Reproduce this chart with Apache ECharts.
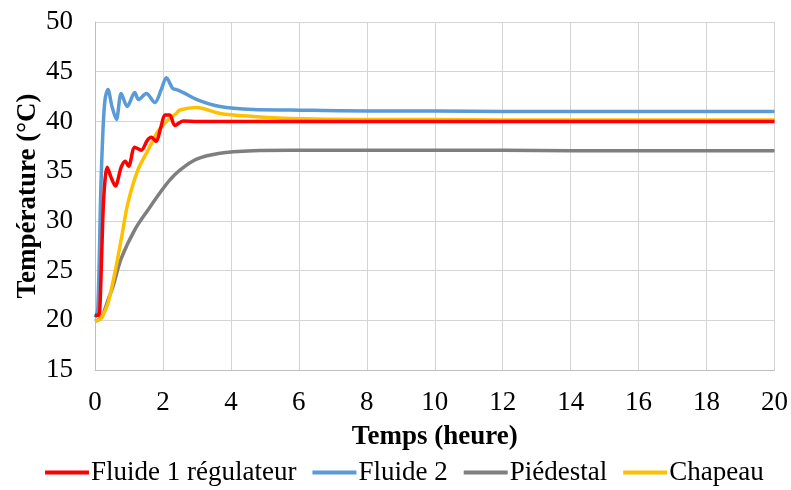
<!DOCTYPE html>
<html>
<head>
<meta charset="utf-8">
<script src="https://cdn.jsdelivr.net/npm/echarts@6/dist/echarts.min.js"></script>
<style>
html,body{margin:0;padding:0;background:#fff;}
#chart{width:791px;height:490px;}
</style>
</head>
<body>
<div id="chart"></div>
<script>
var seriesNames = ['Fluide 1 régulateur', 'Fluide 2', 'Piédestal', 'Chapeau'];
var xTicks = [0, 2, 4, 6, 8, 10, 12, 14, 16, 18, 20];
var yTicks = [15, 20, 25, 30, 35, 40, 45, 50];

var fluide1Time = [0, 0.1, 0.14, 0.2, 0.26, 0.36, 0.47, 0.6, 0.77, 0.89, 0.99, 1.17, 1.36, 1.54, 1.66, 1.8, 1.93, 2.07, 2.2, 2.35, 2.6, 3, 4, 6, 8, 10, 12, 14, 16, 18, 20];
var fluide1 = [20.5, 20.5, 21, 27, 32.5, 35.4, 34.4, 33.5, 35.4, 36.0, 35.5, 37.4, 37.1, 38.1, 38.4, 38.0, 39.3, 40.65, 40.65, 39.6, 40.05, 40.0, 40.0, 40.0, 40.0, 40.0, 40.0, 40.0, 40.0, 40.0, 40.0];

var fluide2Time = [0, 0.08, 0.17, 0.24, 0.3, 0.38, 0.5, 0.63, 0.77, 0.95, 1.17, 1.28, 1.51, 1.76, 1.95, 2.1, 2.29, 2.4, 2.6, 3, 3.68, 4.66, 5.74, 8, 10, 12, 14, 16, 18, 20];
var fluide2 = [20.3, 21, 33, 39.5, 42.3, 43.2, 41.5, 40.2, 42.8, 41.5, 42.9, 42.2, 42.8, 41.9, 43.2, 44.4, 43.3, 43.2, 42.9, 42.2, 41.5, 41.2, 41.15, 41.05, 41.05, 41.0, 41.0, 41.0, 41.0, 41.0];

var piedestalTime = [0, 0.2, 0.3, 0.4, 0.53, 0.77, 1.17, 1.56, 1.95, 2.2, 2.5, 2.99, 3.68, 4.66, 5.74, 8, 10, 12, 14, 16, 18, 20];
var piedestal = [19.9, 20.3, 21.2, 22.2, 23.4, 26.2, 29.1, 31.1, 33.0, 34.1, 35.1, 36.2, 36.8, 37.05, 37.1, 37.1, 37.1, 37.1, 37.05, 37.05, 37.05, 37.05];

var chapeauTime = [0, 0.09, 0.2, 0.38, 0.58, 0.77, 0.97, 1.26, 1.56, 1.85, 2.15, 2.39, 2.5, 2.99, 3.68, 4.66, 5.74, 8, 10, 12, 14, 16, 18, 20];
var chapeau = [19.9, 20.0, 20.3, 21.7, 24.7, 28.1, 31.8, 35.1, 37.1, 39.0, 40.15, 40.8, 41.15, 41.4, 40.8, 40.5, 40.3, 40.2, 40.2, 40.15, 40.15, 40.15, 40.15, 40.15];

var colors = ['#FF0000', '#5B9BD5', '#7F7F7F', '#FFC000'];

function pairs(t, v) {
  var out = [];
  for (var i = 0; i < t.length; i++) out.push([t[i], v[i]]);
  return out;
}

var seriesData = [
  pairs(fluide1Time, fluide1),
  pairs(fluide2Time, fluide2),
  pairs(piedestalTime, piedestal),
  pairs(chapeauTime, chapeau)
];

var font = 'Liberation Serif';
var chart = echarts.init(document.getElementById('chart'));
chart.setOption({
  animation: false,
  backgroundColor: '#ffffff',
  color: colors,
  grid: { left: 95, right: 16, top: 22, bottom: 120, containLabel: false },
  xAxis: {
    type: 'value',
    min: xTicks[0],
    max: xTicks[xTicks.length - 1],
    interval: 2,
    name: 'Temps (heure)',
    nameLocation: 'middle',
    nameGap: 54,
    nameTextStyle: { fontFamily: font, fontSize: 27, fontWeight: 'bold', color: '#000' },
    axisLine: { show: true, lineStyle: { color: '#BFBFBF', width: 1 } },
    axisTick: { show: false },
    axisLabel: { fontFamily: font, fontSize: 27, color: '#000', margin: 19 },
    splitLine: { show: true, lineStyle: { color: '#D4D4D4', width: 1 } }
  },
  yAxis: {
    type: 'value',
    min: yTicks[0],
    max: yTicks[yTicks.length - 1],
    interval: 5,
    name: 'Température (°C)',
    nameLocation: 'middle',
    nameGap: 53,
    nameMoveOverlap: false,
    nameTextStyle: { fontFamily: font, fontSize: 27, fontWeight: 'bold', color: '#000' },
    axisLine: { show: true, lineStyle: { color: '#BFBFBF', width: 1 } },
    axisTick: { show: false },
    axisLabel: { fontFamily: font, fontSize: 27, color: '#000', margin: 22 },
    splitLine: { show: true, lineStyle: { color: '#D4D4D4', width: 1 } }
  },
  legend: {
    top: 454,
    left: 40,
    icon: 'rect',
    itemWidth: 44,
    itemHeight: 4,
    itemGap: 16,
    textStyle: { fontFamily: font, fontSize: 27, color: '#000', padding: [0, 0, 0, -3] },
    data: seriesNames
  },
  series: seriesNames.map(function (n, i) {
    return {
      name: n,
      type: 'line',
      data: seriesData[i],
      showSymbol: false,
      symbol: 'none',
      smooth: 0.3,
      lineStyle: { width: 3.5, color: colors[i] },
      itemStyle: { color: colors[i] },
      z: [3, 2, 1, 2][i]
    };
  })
});
</script>
</body>
</html>
